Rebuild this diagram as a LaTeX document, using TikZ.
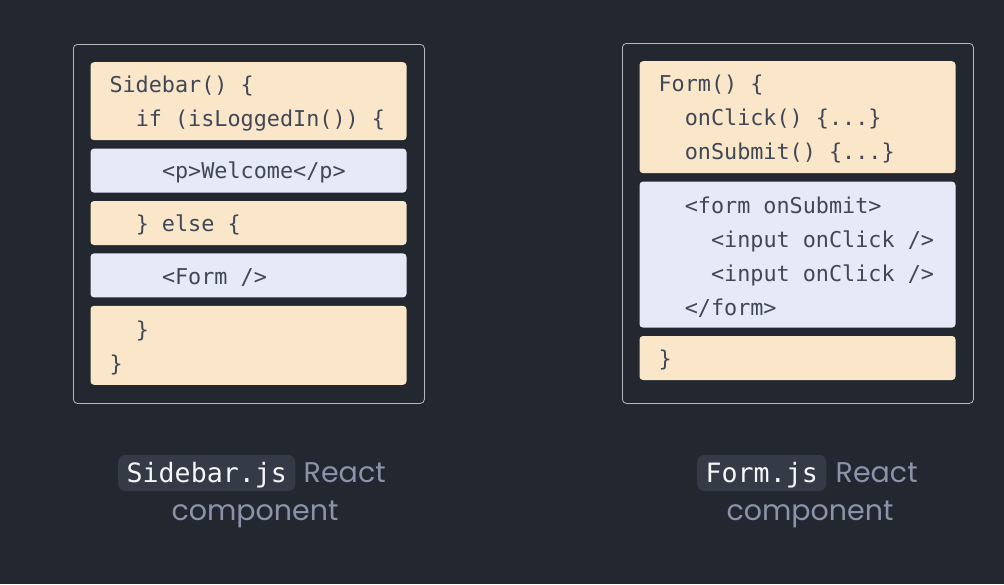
\documentclass[tikz,border=0pt]{standalone}
\usepackage{fontspec}
\setmainfont{Poppins}
\setmonofont{DejaVu Sans Mono}
\usetikzlibrary{positioning}

\definecolor{pagebg}{HTML}{23272F}
\definecolor{framegray}{HTML}{B4B8C0}
\definecolor{blkyellow}{HTML}{FAE7CA}
\definecolor{blkblue}{HTML}{E6E9F8}
\definecolor{codetext}{HTML}{404756}
\definecolor{pillbg}{HTML}{343A46}
\definecolor{pilltext}{HTML}{F6F7F9}
\definecolor{labelgray}{HTML}{8A93AA}

\newcommand{\indnt}{\phantom{xx}}

\tikzset{
  frame/.style={draw=framegray, line width=0.8, rounded corners=4, inner sep=0},
  codeblk/.style={rectangle, rounded corners=3.5, text width=278, inner xsep=19,
    inner ysep=0, align=left, text=codetext,
    font=\ttfamily\fontsize{21.8}{34}\selectfont,
    execute at begin node={\spaceskip=0pt\xspaceskip=0pt\rule{0pt}{21pt}}},
  yblk/.style={codeblk, fill=blkyellow},
  bblk/.style={codeblk, fill=blkblue},
  pill/.style={fill=pillbg, rounded corners=7, text=pilltext, inner xsep=8.5,
    inner ysep=9, text height=18, text depth=0,
    font=\ttfamily\fontsize{26.6}{30}\selectfont},
  lbl/.style={text=labelgray, inner sep=0, font=\fontsize{28.5}{30}\selectfont}
}

\begin{document}
\begin{tikzpicture}[x=1pt, y=1pt, node distance=8]
  \fill[pagebg] (0,0) rectangle (1004,-584);

  % Sidebar component
  \node (leftframe) [frame, minimum width=351, minimum height=359, anchor=north west] at (73,-44) {};
  \node (sbhead) [yblk, minimum height=78, anchor=north] at (248.5,-62)
    {Sidebar() \{\\\indnt if (isLoggedIn()) \{};
  \node (sbwelcome) [bblk, minimum height=44, below=of sbhead]
    {\indnt\indnt <p>Welcome</p>};
  \node (sbelse) [yblk, minimum height=44, below=of sbwelcome]
    {\indnt\} else \{};
  \node (sbform) [bblk, minimum height=44, below=of sbelse]
    {\indnt\indnt <Form />};
  \node (sbclose) [yblk, minimum height=79, below=of sbform]
    {\indnt\}\\\}};

  % Form component
  \node (rightframe) [frame, minimum width=351, minimum height=360, anchor=north west] at (622,-43) {};
  \node (fmhead) [yblk, minimum height=112, anchor=north] at (797.5,-61)
    {Form() \{\\\indnt onClick() \{...\}\\\indnt onSubmit() \{...\}};
  \node (fmjsx) [bblk, minimum height=146, below=of fmhead]
    {\indnt <form onSubmit>\\\indnt\indnt <input onClick />\\\indnt\indnt <input onClick />\\\indnt </form>};
  \node (fmclose) [yblk, minimum height=44, below=of fmjsx]
    {\}};

  % captions
  \node (leftpill) [pill, anchor=base west] at (118,-482) {Sidebar.js};
  \node (leftreact) [lbl, anchor=base west] at ([xshift=8]leftpill.base east) {React};
  \node (leftcomp) [lbl, anchor=base] at (255,-520) {component};

  \node (rightpill) [pill, anchor=base west] at (697,-482) {Form.js};
  \node (rightreact) [lbl, anchor=base west] at ([xshift=9]rightpill.base east) {React};
  \node (rightcomp) [lbl, anchor=base] at (810,-520) {component};
\end{tikzpicture}
\end{document}
